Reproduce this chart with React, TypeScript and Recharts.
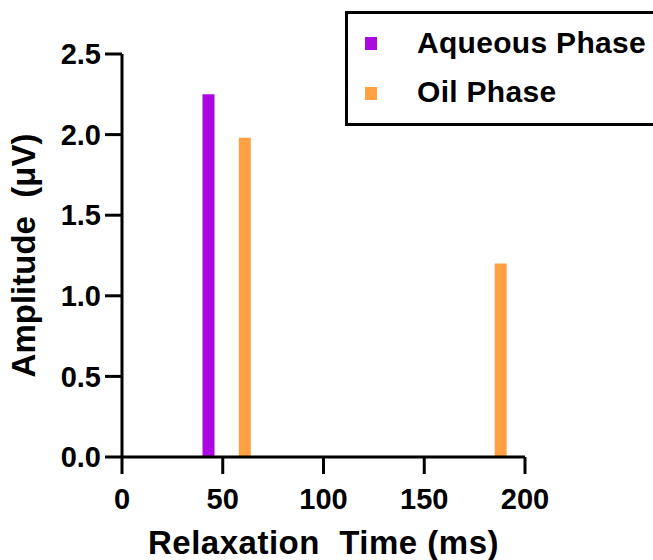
import React from 'react';
import { BarChart, Bar, XAxis, YAxis, Legend } from 'recharts';

const aqueousTimes = [43];
const aqueousAmplitudes = [2.25];
const oilTimes = [61, 188];
const oilAmplitudes = [1.98, 1.2];
const xTicks = [0, 50, 100, 150, 200];
const yTicks = [0, 0.5, 1.0, 1.5, 2.0, 2.5];
const seriesKeys = ['aqueous', 'oil'];
const seriesNames = ['Aqueous Phase', 'Oil Phase'];
const seriesColors = ['#AB08DF', '#FFA142'];
const xTitle = 'Relaxation\u00A0 Time (ms)';
const yTitle = 'Amplitude\u00A0 (\u03BCV)';

const data = [
  ...aqueousTimes.map((t, i) => ({ time: t, aqueous: aqueousAmplitudes[i] } as any)),
  ...oilTimes.map((t, i) => ({ time: t, oil: oilAmplitudes[i] } as any)),
].sort((a, b) => a.time - b.time);

const FONT = "'Liberation Sans', Arial, Helvetica, sans-serif";
const axisStroke = { stroke: '#000', strokeWidth: 3 };
const tickStyle = { fill: '#000', fontSize: 29, fontWeight: 700, fontFamily: FONT };

const renderXTitle = (props: any) => {
  const vb = props.viewBox || {};
  return (
    <text
      x={vb.x + vb.width / 2}
      y={vb.y + 97}
      textAnchor="middle"
      fill="#000"
      fontSize={33}
      fontWeight={700}
      fontFamily={FONT}
      letterSpacing={0.5}
    >
      {xTitle}
    </text>
  );
};

const renderYTitle = (props: any) => {
  const vb = props.viewBox || {};
  const cx = vb.x + 35;
  const cy = vb.y + vb.height / 2;
  return (
    <text
      x={cx}
      y={cy}
      transform={`rotate(-90, ${cx}, ${cy})`}
      textAnchor="middle"
      fill="#000"
      fontSize={33}
      fontWeight={700}
      fontFamily={FONT}
    >
      {yTitle}
    </text>
  );
};

const renderLegend = () => (
  <div
    style={{
      position: 'relative',
      width: 330,
      height: 115,
      border: '3px solid #000',
      boxSizing: 'border-box',
      background: '#fff',
      fontFamily: FONT,
    }}
  >
    {seriesNames.map((name, i) => (
      <React.Fragment key={name}>
        <div
          style={{
            position: 'absolute',
            left: 17,
            top: 23 + i * 50,
            width: 12,
            height: 13,
            background: seriesColors[i],
          }}
        />
        <div
          style={{
            position: 'absolute',
            left: 69,
            top: 14 + i * 48.5,
            fontSize: 30,
            lineHeight: '30px',
            fontWeight: 700,
            color: '#000',
            whiteSpace: 'nowrap',
            letterSpacing: 0.3,
          }}
        >
          {name}
        </div>
      </React.Fragment>
    ))}
  </div>
);

export default function App() {
  return (
    <div
      style={{
        position: 'absolute',
        left: 0,
        top: 0,
        width: 653,
        height: 560,
        overflow: 'hidden',
        background: '#fff',
        fontFamily: FONT,
      }}
    >
      <BarChart
        width={653}
        height={560}
        data={data}
        margin={{ top: 54, right: 128, bottom: 0, left: 0 }}
      >
        <XAxis
          type="number"
          dataKey="time"
          domain={[0, 200]}
          ticks={xTicks}
          interval={0}
          allowDataOverflow
          height={103}
          tickSize={17}
          tickMargin={14}
          axisLine={axisStroke}
          tickLine={axisStroke}
          tick={tickStyle}
          label={renderXTitle}
        />
        <YAxis
          type="number"
          domain={[0, 2.5]}
          ticks={yTicks}
          interval={0}
          allowDataOverflow
          width={122}
          tickSize={17}
          tickMargin={4}
          axisLine={axisStroke}
          tickLine={axisStroke}
          tick={tickStyle}
          tickFormatter={(v: number) => v.toFixed(1)}
          label={renderYTitle}
        />
        {seriesKeys.map((k, i) => (
          <Bar
            key={k}
            dataKey={k}
            name={seriesNames[i]}
            stackId="s"
            fill={seriesColors[i]}
            barSize={12}
            isAnimationActive={false}
          />
        ))}
        <Legend
          content={renderLegend}
          layout="vertical"
          align="center"
          verticalAlign="middle"
          wrapperStyle={{ left: 345, top: 11, width: 330, height: 115 }}
        />
      </BarChart>
    </div>
  );
}
